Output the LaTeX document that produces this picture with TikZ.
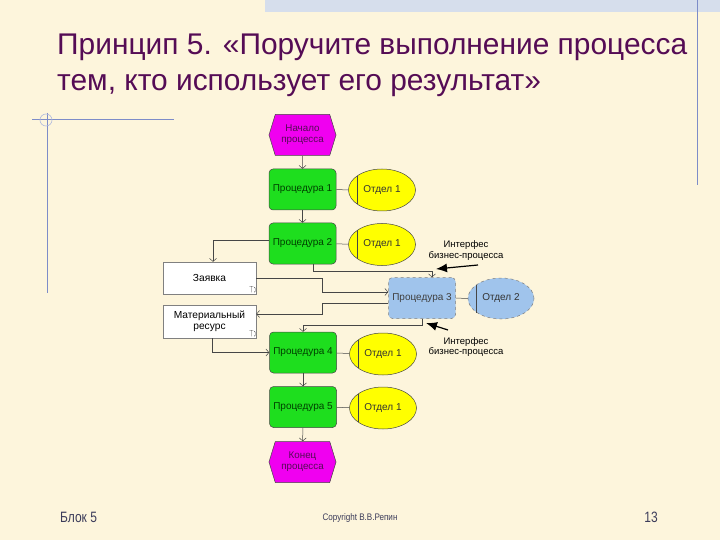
\documentclass[tikz,border=0pt]{standalone}
\usepackage{fontspec}
\usepackage{graphicx}
\setmainfont{Liberation Sans}
\usetikzlibrary{shapes.geometric,shapes.symbols,arrows.meta}
\definecolor{bg}{RGB}{253,245,220}
\definecolor{band}{RGB}{214,222,236}
\definecolor{deco}{RGB}{125,140,200}
\definecolor{titlec}{RGB}{85,12,85}
\definecolor{procg}{RGB}{30,222,30}
\definecolor{deptY}{RGB}{255,255,0}
\definecolor{magent}{RGB}{240,0,240}
\definecolor{blueP}{RGB}{160,196,236}
\definecolor{linec}{RGB}{70,70,70}
\definecolor{footc}{RGB}{60,60,90}
\tikzset{
  proc/.style={draw=linec, line width=0.5pt, rounded corners=4pt, fill=procg,
    minimum width=67pt, minimum height=41pt, inner sep=0pt,
    font=\fontsize{10}{11}\selectfont, text=black!75!green},
  dept/.style={ellipse, draw=linec, line width=0.5pt, fill=deptY,
    minimum width=67pt, minimum height=42pt, inner sep=0pt,
    font=\fontsize{10}{11}\selectfont, text=black!80},
  evt/.style={signal, signal to=west and east, signal pointer angle=146,
    draw=linec, line width=0.5pt, fill=magent,
    minimum width=67pt, minimum height=41pt, inner sep=0pt, align=center,
    font=\fontsize{9.8}{11}\selectfont, text=titlec},
  res/.style={draw=gray, line width=0.5pt, fill=white,
    minimum width=93pt, minimum height=32pt, inner sep=0pt, align=center,
    font=\fontsize{10.2}{11.5}\selectfont},
  arr/.style={draw=linec, line width=0.5pt, -{Straight Barb[length=3pt,width=7pt]}},
  plain/.style={draw=linec, line width=0.5pt},
  iarr/.style={draw=black, line width=1.2pt, -{Latex[length=11pt,width=9pt]}},
  ilbl/.style={align=center, font=\fontsize{9.5}{10.5}\selectfont, inner sep=0pt},
  titlestyle/.style={anchor=base west, inner sep=0pt, text=titlec,
    font=\fontsize{29.9}{36}\selectfont},
  foot/.style={inner sep=0pt, text=footc}
}
\begin{document}
\begin{tikzpicture}[x=1pt,y=-1pt]
\fill[bg] (0,0) rectangle (720,540);
\useasboundingbox (0,0) rectangle (720,540);
% decorations
\fill[band] (265,0) rectangle (720,12);
\draw[deco, line width=0.8pt] (697,0) -- (697,185);
\draw[deco, line width=0.8pt] (32,119) -- (174,119);
\draw[deco, line width=0.8pt] (47,113) -- (47,293);
\draw[deco!60, line width=0.6pt] (46,120) circle (6);
% title
\node[titlestyle] (t1) at (57,55) {Принцип 5. «Поручите выполнение процесса};
\node[titlestyle] (t2) at (57,91) {тем, кто использует его результат»};
% nodes
\node[evt] (start) at (302.5,135) {Начало\\процесса};
\node[proc] (p1) at (302.5,189.5) {Процедура 1};
\node[dept] (d1) at (382,190) {Отдел 1};
\node[proc] (p2) at (302.5,243.5) {Процедура 2};
\node[dept] (d2) at (382,244.5) {Отдел 1};
\node[res] (zay) at (209.5,278) {Заявка};
\node[res, minimum height=33pt] (mat) at (209.5,321.5) {Материальный\\ресурс};
\node[proc, fill=blueP, draw=gray, dashed, text=black!75] (p3) at (422,298) {Процедура 3};
\node[dept, fill=blueP, draw=gray, dashed, minimum width=66pt, minimum height=41pt] (d3) at (501,298.5) {Отдел 2};
\node[proc] (p4) at (303,352.5) {Процедура 4};
\node[dept] (d4) at (383,354) {Отдел 1};
\node[proc] (p5) at (303,407) {Процедура 5};
\node[dept] (d5) at (383,408) {Отдел 1};
\node[evt] (end) at (302.5,462) {Конец\\процесса};
% lines inside ellipses
\foreach \n in {d1,d2,d4,d5}{
  \draw[plain] ([xshift=-25pt,yshift=14.3pt]\n.center) -- ([xshift=-25pt,yshift=-14.3pt]\n.center);
}
\draw[plain] ([xshift=-25pt,yshift=14pt]d3.center) -- ([xshift=-25pt,yshift=-14pt]d3.center);
% small icons on resource boxes
\foreach \n in {zay,mat}{
  \draw[linec, line width=0.4pt] ([xshift=-7pt,yshift=8pt]\n.south east) -- ([xshift=-3pt,yshift=8pt]\n.south east)
    ([xshift=-5pt,yshift=8pt]\n.south east) -- ([xshift=-5pt,yshift=2pt]\n.south east)
    ([xshift=-2pt,yshift=7pt]\n.south east) -- ([xshift=-1pt,yshift=6pt]\n.south east) -- ([xshift=-1pt,yshift=3pt]\n.south east) -- ([xshift=-2pt,yshift=2pt]\n.south east);
}
% connectors
\coordinate (bx) at (322,0);
\draw[arr] (start) -- (p1);
\draw[arr] (p1) -- (p2);
\draw[arr] (p4) -- (p5);
\draw[arr] (p5) -- (end);
\draw[plain] (p1) -- (d1);
\draw[plain] (p2) -- (d2);
\draw[plain] (p4) -- (d4);
\draw[plain] (p5) -- (d5);
\draw[plain] (p3) -- (d3);
\draw[arr] ([yshift=3.5pt]p2.west) -| ([xshift=3.5pt]zay.north);
\draw[arr] ([xshift=10.5pt]p2.south) -- ++(0,7) -| ([xshift=10pt]p3.north);
\draw[arr] (zay.east) -- (zay.east -| bx) |- ([yshift=6pt]p3.west);
\draw[arr] ([yshift=-5pt]p3.west) -- ([yshift=-5pt]p3.west -| bx) |- ([yshift=7.5pt]mat.east);
\draw[arr] (p3.south) -- ++(0,6) -| (p4.north);
\draw[arr] ([xshift=2.5pt]mat.south) |- (p4.west);
% interface labels
\node[ilbl] (if1) at (466,250.5) {Интерфес\\бизнес-процесса};
\coordinate (if1s) at (478,265);
\coordinate (if1e) at (436,269);
\draw[iarr] (if1s) -- (if1e);
\node[ilbl] (if2) at (466,347) {Интерфес\\бизнес-процесса};
\coordinate (if2s) at (448,330);
\coordinate (if2e) at (426,323);
\draw[iarr] (if2s) -- (if2e);
% footer
\node[foot, anchor=west] (f1) at (60,517) {\fontsize{15}{16}\selectfont\scalebox{0.8}[1]{Блок 5}};
\node[foot] (f2) at (360,518) {\fontsize{9.5}{10}\selectfont\scalebox{0.85}[1]{Copyright В.В.Репин}};
\node[foot, anchor=east] (f3) at (658,517) {\fontsize{15}{16}\selectfont\scalebox{0.8}[1]{13}};
\end{tikzpicture}
\end{document}
